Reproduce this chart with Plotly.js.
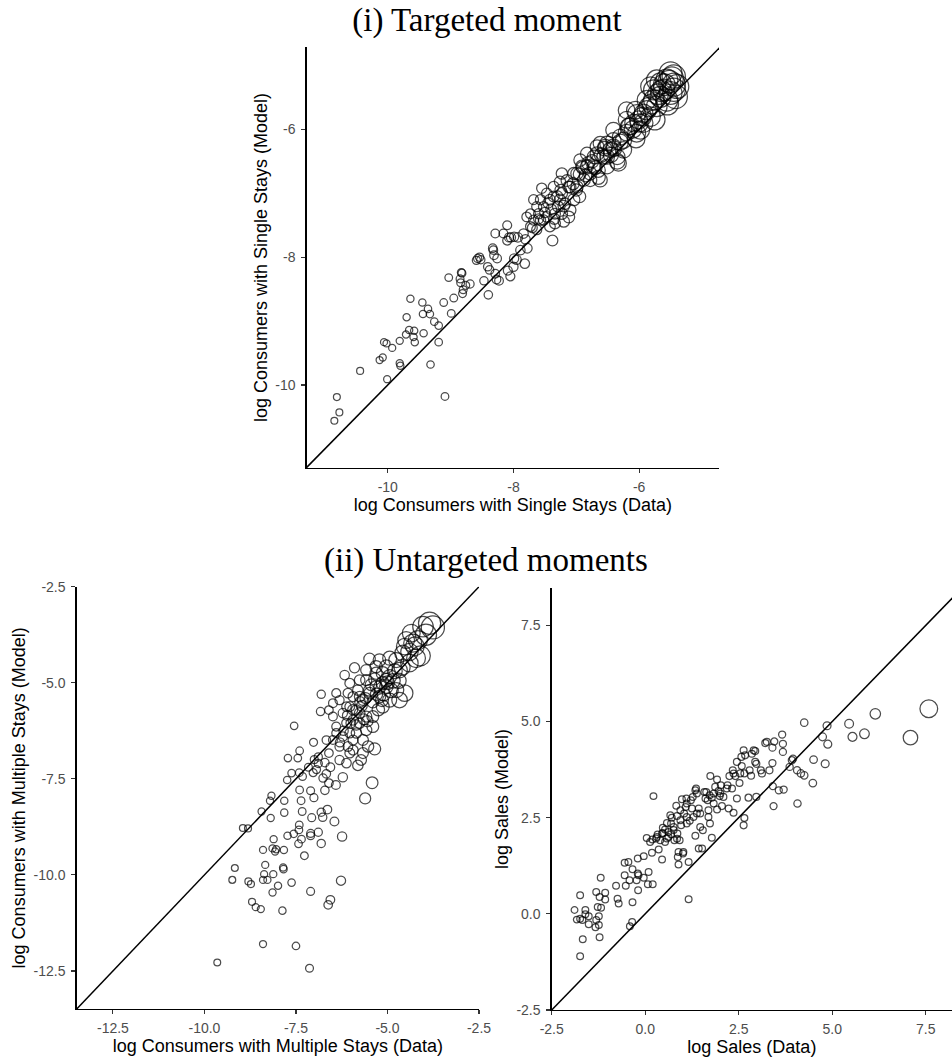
<!DOCTYPE html>
<html>
<head>
<meta charset="utf-8">
<script src="https://cdn.plot.ly/plotly-3.0.1.min.js"></script>
<style>
  html, body { margin: 0; padding: 0; background: #fff; overflow: hidden; }
  #chart { width: 952px; height: 1057px; }
</style>
</head>
<body>
<div id="chart"></div>
<script>
// ---------- DATA ----------
// (i) Targeted moment: [log consumers single stays (Data), (Model)]
const singleStays = [
  [-10.85,-10.56],[-10.77,-10.43],[-10.81,-10.19],[-10.44,-9.78],[-10.01,-9.91],[-10.13,-9.61],[-10.08,-9.57],[-10.06,-9.33],
  [-10.02,-9.35],[-9.93,-9.42],[-9.81,-9.66],[-9.80,-9.70],[-9.81,-9.31],[-9.71,-9.21],[-9.70,-8.94],[-9.64,-8.65],
  [-9.66,-9.14],[-9.58,-9.15],[-9.59,-9.25],[-9.57,-9.33],[-9.45,-8.71],[-9.44,-8.89],[-9.43,-9.19],[-9.36,-8.81],
  [-9.33,-8.89],[-9.26,-9.01],[-9.32,-9.68],[-9.19,-9.07],[-9.19,-9.33],[-9.09,-10.18],[-9.11,-8.71],[-8.99,-8.88],
  [-9.03,-8.32],[-8.95,-8.64],[-8.83,-8.24],[-8.85,-8.34],[-8.84,-8.40],[-8.82,-8.25],[-8.76,-8.44],[-8.81,-8.57],
  [-8.80,-8.51],[-8.69,-8.42],[-8.57,-8.02],[-8.54,-8.00],[-8.59,-8.05],[-8.52,-8.04],[-8.47,-8.37],[-8.41,-8.15],
  [-8.40,-8.59],[-8.38,-8.20],[-8.33,-7.86],[-8.31,-7.97],[-8.29,-7.63],[-8.26,-8.02],[-8.27,-8.35],[-8.23,-8.37],
  [-8.29,-8.26],[-8.09,-8.21],[-8.05,-8.30],[-7.99,-8.02],[-7.95,-8.04],[-8.10,-7.50],[-8.07,-7.69],[-8.04,-7.69],
  [-7.99,-7.68],[-7.93,-7.69],[-7.81,-7.72],[-7.82,-8.10],[-7.78,-7.86],[-7.70,-7.54],[-7.68,-7.10],[-7.63,-7.57],
  [-7.55,-6.92],[-7.38,-7.74],[-7.79,-7.37],[-7.73,-7.32],[-7.60,-7.32],[-7.52,-7.21],[-7.42,-7.10],[-7.68,-7.42],
  [-7.57,-7.42],[-7.47,-7.37],[-7.34,-7.32],[-7.36,-7.05],[-7.23,-7.00],[-7.20,-7.44],[-7.34,-7.47],[-7.23,-6.69],
  [-7.26,-6.82],[-7.12,-6.90],[-7.04,-7.10],[-7.10,-7.26],[-6.99,-6.69],[-6.83,-6.58],[-6.88,-6.79],[-6.78,-6.69],
  [-6.72,-6.43],[-6.65,-6.64],[-6.62,-6.79],[-6.67,-6.38],[-6.51,-6.22],[-6.51,-6.43],[-6.41,-6.17],[-6.35,-6.43],
  [-6.46,-6.32],[-6.33,-6.53],[-6.25,-6.17],[-6.17,-5.96],[-6.04,-6.06],[-6.01,-5.85],[-5.93,-5.75],[-5.88,-5.70],
  [-5.82,-5.80],[-5.77,-5.54],[-5.72,-5.64],[-5.61,-5.38],[-5.66,-5.28],[-5.56,-5.23],[-5.50,-5.12],[-5.45,-5.17],
  [-5.42,-5.49],[-5.50,-5.43],[-5.40,-5.33],[-5.66,-5.49],[-5.77,-5.38],[-5.45,-5.38],[-6.06,-5.70],[-6.20,-5.70],
  [-6.20,-5.85],[-6.41,-6.01],[-6.62,-6.22],[-6.94,-6.48],[-7.04,-6.69],[-6.83,-6.38],[-6.78,-6.79],[-6.99,-6.90],
  [-7.18,-7.16],[-7.29,-7.21],[-7.42,-7.52],[-7.52,-7.42],[-7.63,-7.21],[-7.47,-7.00],[-7.10,-6.90],[-6.72,-6.58],
  [-6.56,-6.43],[-6.51,-6.58],[-6.67,-6.27],[-6.30,-6.12],[-6.09,-5.90],[-5.93,-5.90],[-5.98,-6.01],[-6.25,-6.32],
  [-6.41,-6.27],[-7.36,-6.90],[-7.26,-7.10],[-7.57,-7.10],[-7.73,-7.52],[-7.84,-7.63],[-7.89,-7.89],[-8.00,-8.15],
  [-8.16,-7.63],[-8.10,-7.74],[-8.32,-7.89],[-5.82,-5.33],[-5.56,-5.54],[-5.72,-5.23],[-6.04,-5.75],[-5.88,-5.54],
  [-6.91,-6.58],[-6.54,-6.27],[-6.81,-6.53],[-7.23,-7.32],[-7.12,-7.37],[-7.50,-7.30],[-7.45,-7.15],[-7.40,-7.25],
  [-7.30,-7.05],[-7.25,-6.95],[-7.15,-6.80],[-7.05,-6.85],[-6.95,-6.70],[-6.90,-6.60],[-6.85,-6.72],[-6.75,-6.50],
  [-6.70,-6.60],[-6.60,-6.40],[-6.55,-6.30],[-6.45,-6.40],[-6.40,-6.30],[-6.30,-6.20],[-6.20,-6.05],[-6.15,-5.95],
  [-6.10,-6.00],[-6.00,-5.90],[-5.95,-5.80],[-5.85,-5.65],[-5.80,-5.60],[-5.70,-5.45],[-5.65,-5.40],[-5.60,-5.30],
  [-5.52,-5.25],[-5.48,-5.20],[-5.45,-5.30],[-7.60,-7.40],[-7.20,-7.20],[-7.00,-6.95],[-6.65,-6.75],[-6.35,-6.50],
  [-6.05,-6.15],[-5.75,-5.85],[-5.55,-5.60],[-7.35,-7.40],[-6.95,-7.05]
];

// (ii-a) Untargeted: [log consumers multiple stays (Data), (Model)]
const multipleStays = [
  [-9.65,-12.28],[-8.40,-11.80],[-7.50,-11.85],[-7.13,-12.43],[-9.24,-10.13],[-9.17,-9.82],[-8.80,-10.17],[-8.73,-10.24],
  [-8.70,-10.70],[-8.60,-10.84],[-8.46,-10.89],[-8.40,-10.13],[-8.37,-9.98],[-8.34,-9.74],[-8.28,-10.13],[-8.14,-10.46],
  [-8.12,-9.98],[-7.99,-10.28],[-7.87,-10.93],[-7.85,-9.81],[-7.84,-9.85],[-7.62,-10.20],[-7.10,-10.43],[-6.62,-10.78],
  [-6.56,-10.65],[-6.27,-10.15],[-8.40,-9.35],[-8.14,-9.31],[-8.07,-9.39],[-8.04,-9.33],[-7.83,-9.35],[-8.11,-9.07],
  [-7.73,-8.98],[-7.56,-8.93],[-7.42,-8.83],[-7.41,-8.70],[-7.43,-9.19],[-7.35,-9.07],[-7.27,-9.50],[-7.10,-8.92],
  [-7.10,-8.98],[-6.89,-8.89],[-6.81,-9.18],[-6.24,-9.00],[-6.45,-8.61],[-6.81,-8.37],[-6.77,-8.50],[-6.64,-8.30],
  [-7.07,-8.51],[-7.33,-8.35],[-7.82,-8.38],[-8.19,-8.52],[-8.44,-8.35],[-8.95,-8.78],[-8.81,-8.79],[-8.21,-8.07],
  [-8.17,-7.94],[-7.82,-8.07],[-7.36,-8.07],[-7.40,-7.79],[-7.10,-7.81],[-7.01,-7.99],[-6.71,-7.80],[-6.60,-7.61],
  [-6.41,-7.66],[-6.22,-7.46],[-5.61,-8.01],[-5.42,-7.60],[-7.74,-7.53],[-7.62,-7.35],[-7.41,-7.34],[-7.32,-7.44],
  [-7.03,-7.34],[-6.76,-7.48],[-6.56,-7.20],[-7.72,-6.96],[-7.45,-6.96],[-7.40,-6.77],[-7.55,-6.12],[-7.02,-6.55],
  [-6.81,-5.30],[-6.83,-5.75],[-6.60,-5.71],[-7.00,-7.00],[-6.89,-7.10],[-6.71,-7.08],[-6.60,-6.83],[-6.49,-6.49],
  [-6.40,-6.14],[-6.31,-7.01],[-6.12,-7.09],[-6.03,-6.83],[-5.81,-7.15],[-5.72,-7.01],[-5.67,-6.83],[-5.53,-6.66],
  [-5.35,-6.72],[-5.94,-6.49],[-5.85,-6.31],[-6.31,-6.66],[-6.22,-6.40],[-6.12,-6.05],[-5.94,-5.97],[-5.76,-5.79],
  [-5.58,-5.88],[-5.40,-5.88],[-6.22,-5.79],[-6.03,-5.62],[-6.17,-4.80],[-5.90,-4.61],[-5.81,-5.19],[-5.67,-5.45],
  [-5.49,-5.27],[-5.31,-5.10],[-5.49,-4.38],[-5.22,-4.41],[-4.94,-4.36],[-5.13,-4.75],[-4.94,-4.84],[-5.03,-5.10],
  [-4.76,-5.19],[-4.67,-5.45],[-4.53,-5.27],[-4.94,-5.45],[-5.22,-5.36],[-5.58,-4.93],[-5.76,-4.93],[-6.03,-5.01],
  [-6.08,-5.27],[-6.40,-5.27],[-6.49,-5.53],[-6.31,-5.45],[-4.76,-4.41],[-4.58,-4.23],[-4.49,-3.89],[-4.35,-3.71],
  [-4.31,-3.97],[-4.22,-4.36],[-4.40,-4.49],[-4.67,-4.67],[-4.03,-3.54],[-3.76,-3.56],[-3.85,-3.45],[-4.17,-3.89],
  [-4.53,-4.06],[-5.03,-4.58],[-5.31,-4.75],[-5.58,-4.67],[-5.76,-5.36],[-5.94,-5.36],[-5.31,-4.58],[-5.13,-5.01],
  [-5.94,-6.75],[-6.40,-6.31],[-6.67,-6.49],[-6.89,-6.93],[-6.49,-5.88],[-6.12,-5.62],[-5.58,-6.23],[-5.40,-6.14],
  [-5.76,-6.05],[-5.85,-5.71],[-5.13,-5.62],[-5.03,-4.93],[-6.67,-7.37],[-6.08,-6.66],[-5.67,-6.49],[-7.16,-7.20],
  [-6.94,-7.26],[-6.03,-6.31],[-5.70,-5.60],[-5.60,-5.40],[-5.50,-5.20],[-5.40,-5.50],[-5.30,-5.30],[-5.20,-5.10],
  [-5.10,-5.30],[-5.00,-5.00],[-4.90,-5.20],[-4.85,-4.95],[-4.80,-4.70],[-5.45,-5.05],[-5.65,-5.95],[-5.85,-6.10],
  [-6.00,-6.05],[-6.20,-6.25],[-6.30,-6.55],[-5.55,-6.00],[-5.25,-5.70],[-5.15,-5.45],[-4.70,-4.95],[-4.60,-4.60],
  [-5.35,-4.90],[-5.75,-5.50],[-6.10,-5.85],[-5.95,-5.70],[-4.40,-4.20],[-4.25,-4.05],[-3.95,-3.75],[-4.10,-4.30]
];

// (ii-b) Untargeted: [log sales (Data), (Model)]
const sales = [
  [-1.74,-1.10],[-1.67,-0.66],[-1.89,0.10],[-1.74,0.48],[-1.83,-0.15],[-1.74,-0.13],[-1.68,-0.16],[-1.60,0.10],
  [-1.60,-0.01],[-1.51,-0.06],[-1.51,-0.27],[-1.31,0.57],[-1.27,0.18],[-1.24,-0.06],[-1.31,-0.16],[-1.33,-0.35],
  [-1.24,-0.29],[-1.22,-0.61],[-1.19,0.94],[-1.22,0.44],[-1.18,0.16],[-1.07,0.55],[-1.07,0.37],[-0.78,0.73],
  [-0.74,0.39],[-0.71,0.27],[-0.55,1.33],[-0.45,1.35],[-0.55,1.00],[-0.52,0.73],[-0.42,0.87],[-0.34,1.16],
  [-0.34,0.30],[-0.41,-0.32],[-0.35,-0.21],[-0.20,1.44],[-0.18,1.00],[-0.23,0.87],[-0.19,0.61],[-0.04,1.50],
  [-0.04,0.94],[0.07,0.77],[0.09,1.09],[0.20,0.77],[0.04,1.97],[0.19,1.93],[0.22,3.06],[0.18,1.59],
  [0.31,2.00],[0.36,1.67],[0.45,1.41],[0.40,1.91],[0.45,2.09],[0.47,2.24],[0.53,2.19],[0.58,1.96],
  [0.62,2.13],[0.69,2.35],[0.67,2.56],[0.71,2.50],[0.76,2.26],[0.78,1.91],[0.83,2.81],[0.85,2.54],
  [0.86,2.09],[0.92,1.91],[0.89,1.61],[0.87,1.48],[0.89,1.28],[1.01,1.57],[0.96,2.30],[0.94,2.69],
  [0.98,2.98],[1.04,2.61],[1.08,2.78],[1.10,3.00],[1.11,2.35],[1.16,1.35],[1.16,0.38],[1.19,2.42],
  [1.22,2.95],[1.25,2.74],[1.27,3.04],[1.34,3.21],[1.36,3.26],[1.34,2.03],[1.38,2.61],[1.43,2.74],
  [1.43,1.70],[1.47,2.26],[1.52,1.70],[1.54,2.17],[1.58,3.17],[1.61,3.00],[1.63,3.17],[1.67,2.95],
  [1.69,2.69],[1.69,2.52],[1.73,2.35],[1.74,3.58],[1.78,3.02],[1.78,1.98],[1.83,2.87],[1.92,3.49],
  [1.92,2.71],[1.96,3.19],[1.99,3.06],[2.02,3.34],[2.05,2.80],[2.09,3.04],[2.23,2.74],[2.18,3.26],
  [2.25,3.58],[2.34,3.73],[2.32,3.26],[2.36,2.63],[2.41,3.58],[2.45,3.95],[2.45,3.00],[2.52,3.40],
  [2.54,3.65],[2.57,4.08],[2.63,4.25],[2.65,3.65],[2.65,2.49],[2.63,2.30],[2.67,4.12],[2.76,3.02],
  [2.79,3.73],[2.83,3.59],[2.85,4.16],[2.90,4.25],[2.94,4.23],[2.94,3.95],[2.97,3.90],[2.97,3.04],
  [3.09,3.73],[3.12,3.65],[3.21,4.44],[3.25,4.47],[3.32,3.73],[3.40,4.32],[3.40,3.92],[3.41,3.32],
  [3.43,2.80],[3.45,4.48],[3.57,3.21],[3.66,4.66],[3.68,4.42],[3.68,4.21],[3.70,3.23],[3.86,3.82],
  [3.92,3.99],[3.95,4.03],[4.06,3.73],[4.07,2.87],[4.16,3.65],[4.25,3.60],[4.25,4.97],[4.50,4.01],
  [4.48,3.40],[4.74,4.60],[4.81,3.90],[4.86,4.89],[4.88,4.41],[5.45,4.94],[5.54,4.60],[5.86,4.68],
  [6.15,5.20],[7.09,4.58],[7.58,5.33],[0.29,1.96],[0.33,2.06],[0.47,2.10],[0.53,1.87],[0.62,2.00],
  [0.69,2.07],[0.85,1.95],[0.76,2.18],[1.02,1.61],[1.11,2.52],[1.29,2.52],[1.47,2.61],[1.83,3.13],
  [2.01,3.13],[2.20,3.34],[1.38,3.13],[0.94,2.43],[0.58,2.36],[1.11,2.87],[1.72,3.08],[1.87,3.30],
  [2.36,3.65],[2.58,3.84],[0.13,1.87],[-0.20,1.05]
];

// axis ranges and tick labels
const rangeSingleX = [-11.29, -4.73];
const rangeSingleY = [-11.3, -4.71];
const ticksSingle = [-10, -8, -6];
const tickTextSingle = ["-10", "-8", "-6"];

const rangeMultiple = [-13.49, -2.5];
const ticksMultiple = [-12.5, -10, -7.5, -5, -2.5];
const tickTextMultiple = ["-12.5", "-10.0", "-7.5", "-5.0", "-2.5"];

const rangeSalesX = [-2.5, 8.2];
const rangeSalesY = [-2.5, 8.47];
const ticksSales = [-2.5, 0, 2.5, 5, 7.5];
const tickTextSales = ["-2.5", "0.0", "2.5", "5.0", "7.5"];

const titleTop = "(i) Targeted moment";
const titleBottom = "(ii) Untargeted moments";

// ---------- STYLE / SCALES ----------
const W = 952, H = 1057;
const sans = "Liberation Sans, Arial, sans-serif";
const serif = "Liberation Serif, Times New Roman, serif";

// marker area grows with the level (exp of the log value), with a floor
function sizeScale(v, minArea, k) { return Math.sqrt(minArea + k * Math.exp(v)); }

function px2domX(a, b) { return [a / W, b / W]; }
function px2domY(top, bottom) { return [1 - bottom / H, 1 - top / H]; }

function axis(domain, range, tv, tt, title, anchor, isY) {
  return {
    domain: domain, range: range, anchor: anchor,
    tickvals: tv, ticktext: tt,
    showgrid: false, zeroline: false,
    showline: true, linecolor: "#000", linewidth: 1.4,
    ticks: "outside", ticklen: 4, tickwidth: 1.1, tickcolor: "#333",
    ticklabelstandoff: isY ? 3 : 2,
    tickfont: { family: sans, size: 14, color: "#4d4d4d" },
    title: { text: title, font: { family: sans, size: 18, color: "#000" }, standoff: 3 },
    automargin: false, fixedrange: true
  };
}

function scatter(points, xa, ya, minArea, k) {
  return {
    type: "scatter", mode: "markers", xaxis: xa, yaxis: ya,
    x: points.map(p => p[0]), y: points.map(p => p[1]),
    marker: {
      symbol: "circle-open", color: "#000",
      size: points.map(p => sizeScale(p[0], minArea, k)),
      line: { width: 1.25, color: "#000" }
    },
    hoverinfo: "x+y", showlegend: false, cliponaxis: true
  };
}

function diag(lims, xa, ya) {
  return {
    type: "scatter", mode: "lines", xaxis: xa, yaxis: ya,
    x: lims, y: lims, line: { color: "#000", width: 1.5 },
    hoverinfo: "skip", showlegend: false
  };
}

const data = [
  diag([rangeSingleX[0], rangeSingleY[1]], "x", "y"),
  scatter(singleStays, "x", "y", 45, 115000),
  diag(rangeMultiple, "x2", "y2"),
  scatter(multipleStays, "x2", "y2", 45, 21000),
  diag(rangeSalesY, "x3", "y3"),
  scatter(sales, "x3", "y3", 45, 0.1375)
];

const layout = {
  width: W, height: H,
  margin: { l: 0, r: 0, t: 0, b: 0, pad: 0 },
  paper_bgcolor: "#fff", plot_bgcolor: "#fff",
  showlegend: false,
  title: {
    text: titleTop, font: { family: serif, size: 33, color: "#000" },
    x: 487 / W, xanchor: "center", y: 1 - 19 / H, yanchor: "middle", xref: "paper", yref: "container"
  },
  xaxis: axis(px2domX(306.7, 719), rangeSingleX, ticksSingle, tickTextSingle,
              "log Consumers with Single Stays (Data)", "y", false),
  yaxis: axis(px2domY(47, 468), rangeSingleY, ticksSingle, tickTextSingle,
              "log Consumers with Single Stays (Model)", "x", true),
  xaxis2: axis(px2domX(76.7, 479), rangeMultiple, ticksMultiple, tickTextMultiple,
               "log Consumers with Multiple Stays (Data)", "y2", false),
  yaxis2: axis(px2domY(586.7, 1009), rangeMultiple, ticksMultiple, tickTextMultiple,
               "log Consumers with Multiple Stays (Model)", "x2", true),
  xaxis3: axis(px2domX(551.7, 952), rangeSalesX, ticksSales, tickTextSales,
               "log Sales (Data)", "y3", false),
  yaxis3: axis(px2domY(588, 1010), rangeSalesY, ticksSales, tickTextSales,
               "log Sales (Model)", "x3", true),
  annotations: [{
    text: titleBottom, xref: "paper", yref: "paper",
    x: 486.5 / W, y: 1 - 560 / H, xanchor: "center", yanchor: "middle",
    showarrow: false, font: { family: serif, size: 33, color: "#000" }
  }]
};

Plotly.newPlot("chart", data, layout, { displayModeBar: false, staticPlot: true });
</script>
</body>
</html>
